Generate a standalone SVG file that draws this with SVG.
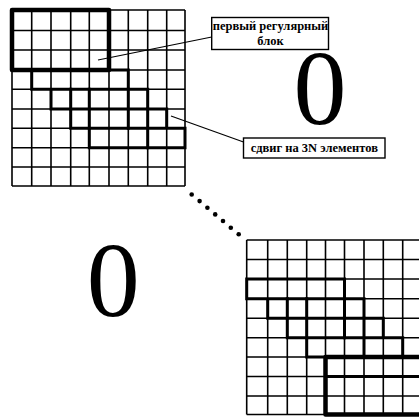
<svg xmlns="http://www.w3.org/2000/svg" width="419" height="417" viewBox="0 0 419 417">
<style>
.thin{fill:none;stroke:#000;stroke-width:1.6}
.mid{fill:none;stroke:#000;stroke-width:3;stroke-linecap:square}
.thick{fill:none;stroke:#000;stroke-width:4.5;stroke-linejoin:round;stroke-linecap:square}
.box{fill:#fff;stroke:#000;stroke-width:1.4}
.lbl{font-family:"Liberation Serif","Times New Roman",serif;font-weight:bold;font-size:12.5px;fill:#000}
.zero{font-family:"Liberation Serif","Times New Roman",serif;font-size:106px;fill:#000}
.lead{stroke:#000;stroke-width:1.2;fill:none}
</style>
<rect width="419" height="417" fill="#fff"/>

<!-- Matrix 1 -->
<g id="matrix1">
<path class="thin" d="M12 10V186M31.7 10V186M51 10V186M70.7 10V186M89.3 10V186M109 10V186M128.3 10V186M147.7 10V186M166.7 10V186M185 10V186
M12 10H185M12 30.5H185M12 50H185M12 70H185M12 89.3H185M12 109H185M12 128.3H185M12 147.7H185M12 167H185M12 186H185"/>
<path class="mid" d="M31.7 70H128.3V89.3H31.7Z M51 89.3H147.7V109H51Z M70.7 109H166.7V128.3H70.7Z M89.3 128.3H185V147.7H89.3Z"/>
<path class="mid" d="M70.7 89.3V109M89.3 89.3V109M128.3 89.3V109 M89.3 109V128.3M128.3 109V128.3M147.7 109V128.3 M147.7 128.3V147.7"/>
<path class="thick" d="M12 10H109V70H12Z"/>
</g>

<!-- Matrix 2 -->
<g id="matrix2">
<path class="thin" d="M246.7 240V414.5M267.7 240V414.5M287.3 240V414.5M306.7 240V414.5M325.5 240V414.5M344.5 240V414.5M364 240V414.5M383.3 240V414.5M402.7 240V414.5
M246.7 240H419M246.7 259.5H419M246.7 279H419M246.7 298.7H419M246.7 318.3H419M246.7 337.7H419M246.7 357H419M246.7 376.5H419M246.7 396H419M246.7 414.5H419"/>
<path class="mid" d="M246.7 279H344.5V298.7H246.7Z M267.7 298.7H364V318.3H267.7Z M287.3 318.3H383.3V337.7H287.3Z M306.7 337.7H402.7V357H306.7Z M325.5 357H422V376.5H325.5Z"/>
<path class="mid" d="M287.3 298.7V318.3M306.7 298.7V318.3M344.5 298.7V318.3 M306.7 318.3V337.7M344.5 318.3V337.7M364 318.3V337.7 M364 337.7V357"/>
<path class="thick" d="M425 357H325.5V414.5H425"/>
</g>

<!-- Label nodes -->
<g id="label-first-block">
<rect class="box" x="211.7" y="17.5" width="116.8" height="32"/>
<text class="lbl" x="270.5" y="30" text-anchor="middle">первый регулярный</text>
<text class="lbl" x="270.5" y="45.3" text-anchor="middle">блок</text>
</g>
<g id="label-shift">
<rect class="box" x="243.5" y="138" width="141.5" height="20"/>
<text class="lbl" x="314.3" y="151.8" text-anchor="middle">сдвиг на 3N элементов</text>
</g>
<g id="zero-top"><text class="zero" x="320" y="123.5" text-anchor="middle">0</text></g>
<g id="zero-bottom"><text class="zero" x="113.3" y="315.5" text-anchor="middle">0</text></g>

<!-- Connectors -->
<g id="connectors">
<path class="lead" d="M98 60L211.7 37"/>
<path class="lead" d="M171 116L243.5 142"/>
<g fill="#000">
<circle cx="191.7" cy="194.5" r="2.3"/>
<circle cx="199.6" cy="201.1" r="2.3"/>
<circle cx="207.4" cy="207.8" r="2.3"/>
<circle cx="215.2" cy="214.4" r="2.3"/>
<circle cx="223" cy="221" r="2.3"/>
<circle cx="230.8" cy="227.7" r="2.3"/>
<circle cx="238.7" cy="234.3" r="2.3"/>
</g>
</g>
</svg>
